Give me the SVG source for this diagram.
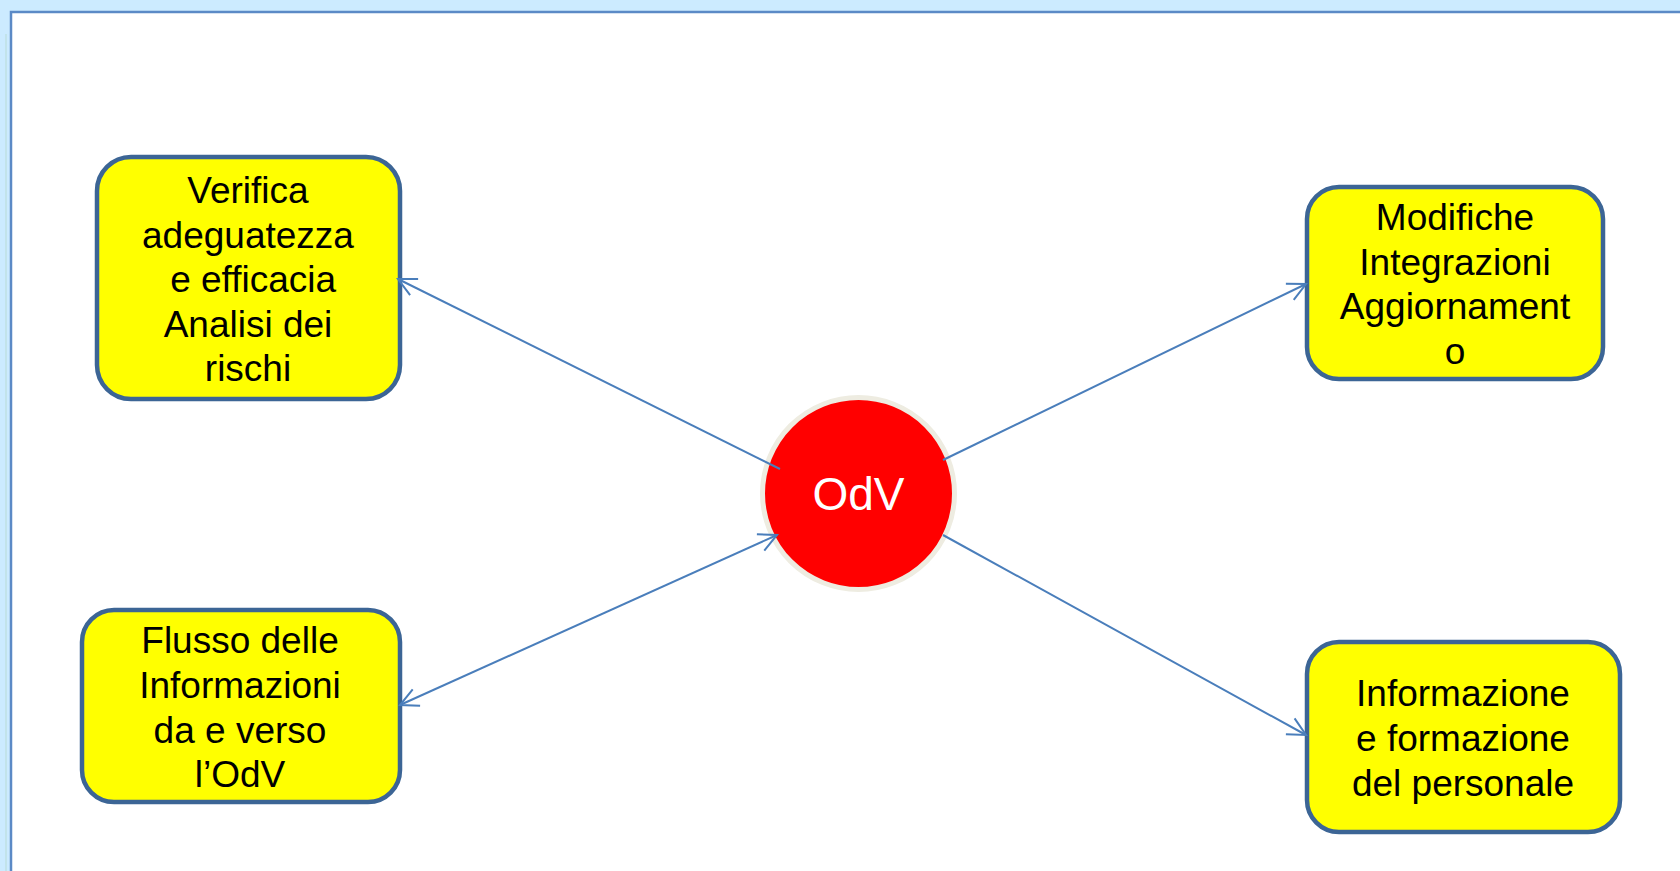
<svg xmlns="http://www.w3.org/2000/svg" width="1680" height="871" viewBox="0 0 1680 871">
<defs>
<style>
.box{fill:#FFFF00;stroke:#3C6595;stroke-width:4.5}
.t{font-family:"Liberation Sans",Arial,sans-serif;font-size:37px;fill:#000;text-anchor:middle;white-space:pre}
.c{stroke:#4A7EBB;stroke-width:2;fill:none}
</style>
<marker id="ah" viewBox="0 0 24 24" refX="21" refY="12" markerWidth="24" markerHeight="24" markerUnits="userSpaceOnUse" orient="auto-start-reverse">
<path d="M3,3 L21,12 L3,21" fill="none" stroke="#4A7EBB" stroke-width="2"/>
</marker>
</defs>
<rect x="0" y="0" width="1680" height="871" fill="#CCEBFF"/>
<rect x="5" y="34" width="2" height="837" fill="#C2E3EA"/>
<rect x="11" y="12" width="1680" height="870" fill="#FFFFFF" stroke="#5B8AC6" stroke-width="2.5"/>
<g id="node-verifica">
<rect class="box" x="97" y="157" width="303" height="242" rx="34"/>
<text class="t" x="248" y="203">Verifica</text>
<text class="t" x="248" y="248">adeguatezza</text>
<text class="t" x="248" y="292" xml:space="preserve"> e efficacia</text>
<text class="t" x="248" y="337">Analisi dei</text>
<text class="t" x="248" y="381">rischi</text>
</g>
<g id="node-flusso">
<rect class="box" x="82" y="610" width="318" height="192" rx="32"/>
<text class="t" x="240" y="653">Flusso delle</text>
<text class="t" x="240" y="698">Informazioni</text>
<text class="t" x="240" y="743">da e verso</text>
<text class="t" x="240" y="787">l’OdV</text>
</g>
<g id="node-modifiche">
<rect class="box" x="1307" y="187" width="296" height="192" rx="32"/>
<text class="t" x="1455" y="230">Modifiche</text>
<text class="t" x="1455" y="275">Integrazioni</text>
<text class="t" x="1455" y="319">Aggiornament</text>
<text class="t" x="1455" y="364">o</text>
</g>
<g id="node-informazione">
<rect class="box" x="1307" y="642" width="313" height="190" rx="32"/>
<text class="t" x="1463" y="706">Informazione</text>
<text class="t" x="1463" y="751">e formazione</text>
<text class="t" x="1463" y="796">del personale</text>
</g>
<g id="node-odv">
<circle cx="858.5" cy="493.5" r="96" fill="#FF0000" stroke="#EEECE1" stroke-width="5"/>
<text x="858.5" y="510" font-family="Liberation Sans, Arial, sans-serif" font-size="46" fill="#FFFFFF" text-anchor="middle">OdV</text>
</g>
<g id="connectors">
<line class="c" x1="780" y1="469" x2="398" y2="279" marker-end="url(#ah)"/>
<line class="c" x1="777" y1="535" x2="400" y2="705" marker-start="url(#ah)" marker-end="url(#ah)"/>
<line class="c" x1="943" y1="460" x2="1306" y2="284" marker-end="url(#ah)"/>
<line class="c" x1="943" y1="535" x2="1306" y2="735" marker-end="url(#ah)"/>
</g>
</svg>
